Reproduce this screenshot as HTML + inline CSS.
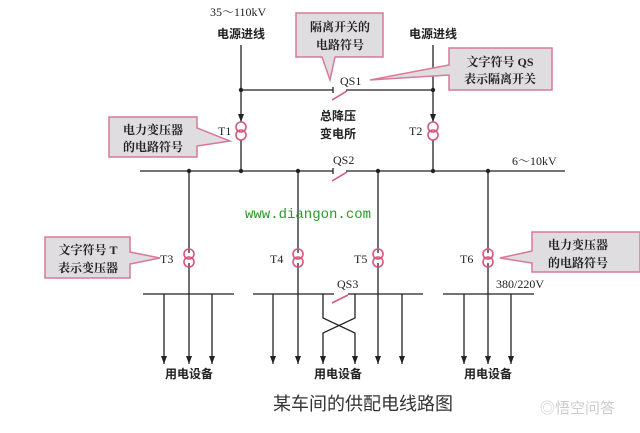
<!DOCTYPE html>
<html><head><meta charset="utf-8"><style>
body{margin:0;background:#fff;}
svg text{font-family:"Liberation Serif","Noto Serif CJK SC",serif;fill:#222;}
.c{font-family:"Liberation Sans","Noto Sans CJK SC",sans-serif;font-weight:bold;fill:#222;}
</style></head><body>
<svg width="640" height="428" viewBox="0 0 640 428" xmlns="http://www.w3.org/2000/svg">
<defs>
<marker id="a" markerWidth="8" markerHeight="6" refX="8" refY="3" orient="auto" markerUnits="userSpaceOnUse">
<path d="M0,0 L8,3 L0,6 Z" fill="#222"/></marker>
<g id="t"><circle cx="0" cy="-4" r="5" fill="none" stroke="#d4587a" stroke-width="1.6"/><circle cx="0" cy="4" r="5" fill="none" stroke="#d4587a" stroke-width="1.6"/></g>
</defs>
<g stroke="#222" stroke-width="1.3" fill="none">
<line x1="241" y1="45" x2="241" y2="122" marker-end="url(#a)"/>
<line x1="433" y1="45" x2="433" y2="122" marker-end="url(#a)"/>
<line x1="241" y1="90" x2="333" y2="90"/><line x1="333" y1="87" x2="333" y2="93"/>
<line x1="346" y1="90" x2="433" y2="90"/>
<line x1="241" y1="140" x2="241" y2="171"/><line x1="433" y1="140" x2="433" y2="171"/>
<line x1="140" y1="171" x2="333" y2="171"/><line x1="333" y1="168" x2="333" y2="174"/>
<line x1="346" y1="171" x2="565" y2="171"/>
<line x1="189" y1="171" x2="189" y2="253"/><line x1="298" y1="171" x2="298" y2="253"/>
<line x1="378" y1="171" x2="378" y2="253"/><line x1="488" y1="171" x2="488" y2="253"/>
<line x1="189" y1="263" x2="189" y2="364" marker-end="url(#a)"/>
<line x1="298" y1="263" x2="298" y2="364" marker-end="url(#a)"/>
<line x1="378" y1="263" x2="378" y2="364" marker-end="url(#a)"/>
<line x1="488" y1="263" x2="488" y2="364" marker-end="url(#a)"/>
<line x1="143" y1="294" x2="234" y2="294"/>
<line x1="253" y1="294" x2="334" y2="294"/><line x1="348" y1="294" x2="423" y2="294"/>
<line x1="443" y1="294" x2="534" y2="294"/>
<line x1="164" y1="294" x2="164" y2="364" marker-end="url(#a)"/>
<line x1="212" y1="294" x2="212" y2="364" marker-end="url(#a)"/>
<line x1="273" y1="294" x2="273" y2="364" marker-end="url(#a)"/>
<line x1="402" y1="294" x2="402" y2="364" marker-end="url(#a)"/>
<line x1="464" y1="294" x2="464" y2="364" marker-end="url(#a)"/>
<line x1="511" y1="294" x2="511" y2="364" marker-end="url(#a)"/>
<polyline points="323,294 323,318 355,333 355,364" marker-end="url(#a)"/>
<polyline points="355,294 355,318 323,333 323,364" marker-end="url(#a)"/>
</g>
<g stroke="#d4587a" stroke-width="1.6">
<line x1="332" y1="100" x2="347" y2="91"/>
<line x1="332" y1="181" x2="347" y2="172"/>
<line x1="332" y1="303" x2="348" y2="295"/>
</g>
<g fill="#222">
<circle cx="241" cy="90" r="2.2"/><circle cx="433" cy="90" r="2.2"/>
<circle cx="189" cy="171" r="2.2"/><circle cx="241" cy="171" r="2.2"/><circle cx="298" cy="171" r="2.2"/>
<circle cx="378" cy="171" r="2.2"/><circle cx="433" cy="171" r="2.2"/><circle cx="488" cy="171" r="2.2"/>
</g>
<use href="#t" x="241" y="131"/><use href="#t" x="433" y="131"/>
<use href="#t" x="189" y="258"/><use href="#t" x="298" y="258"/>
<use href="#t" x="378" y="258"/><use href="#t" x="488" y="258"/>
<g fill="#e0dde0" stroke="#d77a97" stroke-width="1.5">
<path d="M296,13 H383 V57 H335 L330,80 L322,57 H296 Z"/>
<path d="M449,48 H552 V90 H449 V75 L370,80 L449,65 Z"/>
<path d="M109,117 H197 V128 L230,141 L197,146 V157 H109 Z"/>
<path d="M45,237 H130 V252 L160,258 L130,264 V278 H45 Z"/>
<path d="M532,232 H640 V272 H532 V263 L500,258 L532,251 Z"/>
</g>
<g class="c" font-size="12" text-anchor="middle">
<text x="340" y="31">隔离开关的</text><text x="340" y="49">电路符号</text>
<text x="500" y="66">文字符号 QS</text><text x="500" y="83">表示隔离开关</text>
<text x="153" y="134">电力变压器</text><text x="153" y="151">的电路符号</text>
<text x="88" y="254">文字符号 T</text><text x="88" y="272">表示变压器</text>
<text x="578" y="249">电力变压器</text><text x="578" y="267">的电路符号</text>
</g>
<g font-size="12">
<text x="210" y="16">35～110kV</text>
<text x="217" y="38" class="c">电源进线</text><text x="409" y="38" class="c">电源进线</text>
<text x="340" y="85">QS1</text>
<text x="320" y="120" class="c">总降压</text><text x="320" y="138" class="c">变电所</text>
<text x="218" y="135">T1</text><text x="409" y="135">T2</text>
<text x="333" y="164">QS2</text><text x="512" y="165">6～10kV</text>
<text x="160" y="263">T3</text><text x="270" y="263">T4</text><text x="354" y="263">T5</text><text x="460" y="263">T6</text>
<text x="337" y="288">QS3</text><text x="496" y="288">380/220V</text>
<text x="165" y="378" class="c">用电设备</text><text x="314" y="378" class="c">用电设备</text><text x="464" y="378" class="c">用电设备</text>
</g>
<text x="245" y="218" font-size="14" style="font-family:'Liberation Mono',monospace;fill:#2a9a2a">www.diangon.com</text>
<text x="273" y="410" font-size="18" style="font-family:'Noto Sans CJK SC',sans-serif;fill:#333">某车间的供配电线路图</text>
<text x="540" y="413" font-size="15" style="font-family:'Noto Sans CJK SC',sans-serif;fill:#ccc">◎悟空问答</text>
</svg>
</body></html>
